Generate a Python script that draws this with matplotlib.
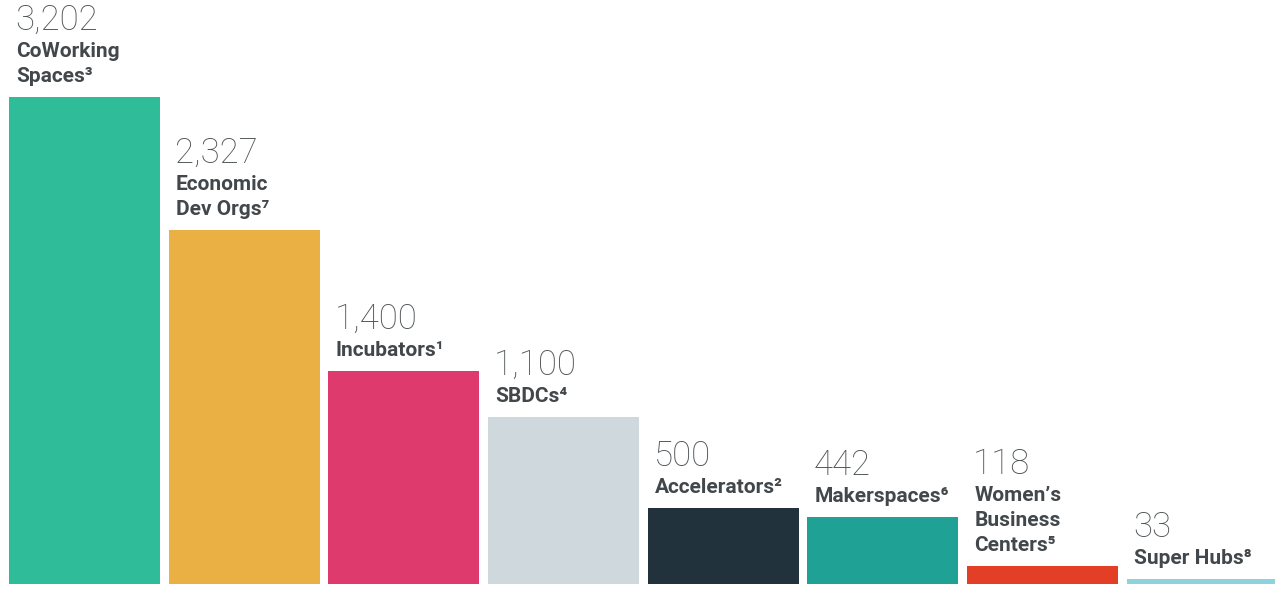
import matplotlib.pyplot as plt
import matplotlib.transforms as mtransforms

plt.rcParams['font.family'] = ['Roboto', 'DejaVu Sans']

# Data
names = ["CoWorking\nSpaces³", "Economic\nDev Orgs⁷", "Incubators¹", "SBDCs⁴",
         "Accelerators²", "Makerspaces⁶", "Women’s\nBusiness\nCenters⁵", "Super Hubs⁸"]
counts = [3202, 2327, 1400, 1100, 500, 442, 118, 33]
colors = ["#2EBD98", "#EAB044", "#DE3A6E", "#CFD8DC",
          "#22323D", "#1FA196", "#E23F26", "#8DD3DB"]

fig = plt.figure(figsize=(12.75, 6.11), dpi=100)
ax = fig.add_axes([0, 27 / 611, 1, 584 / 611])

bar_w = 0.945
x = list(range(len(counts)))
bars = ax.bar(x, counts, width=bar_w, color=colors, linewidth=0)

ax.set_xlim(-0.529, 7.455)
ax.set_ylim(0, 3840)
ax.axis('off')

label_color = "#41474A"
number_color = "#4F5457"

for bar, name, value in zip(bars, names, counts):
    x0 = bar.get_x()
    top = bar.get_height()
    lines = name.split("\n")
    # stack lines upward from the bar top (offsets in pixels)
    y_off = 15
    for line in reversed(lines):
        tr = mtransforms.offset_copy(ax.transData, fig=fig, x=7, y=y_off, units='dots')
        ax.text(x0, top, line, transform=tr, ha='left', va='baseline',
                fontsize=15, fontweight='bold', color=label_color, clip_on=False)
        y_off += 25
    y_off += 2
    tr = mtransforms.offset_copy(ax.transData, fig=fig, x=6, y=y_off, units='dots')
    ax.text(x0, top, f"{value:,}", transform=tr, ha='left', va='baseline',
            fontsize=25, fontweight='light', color=number_color, clip_on=False)

fig.savefig("out.png", dpi=100, facecolor='white')
